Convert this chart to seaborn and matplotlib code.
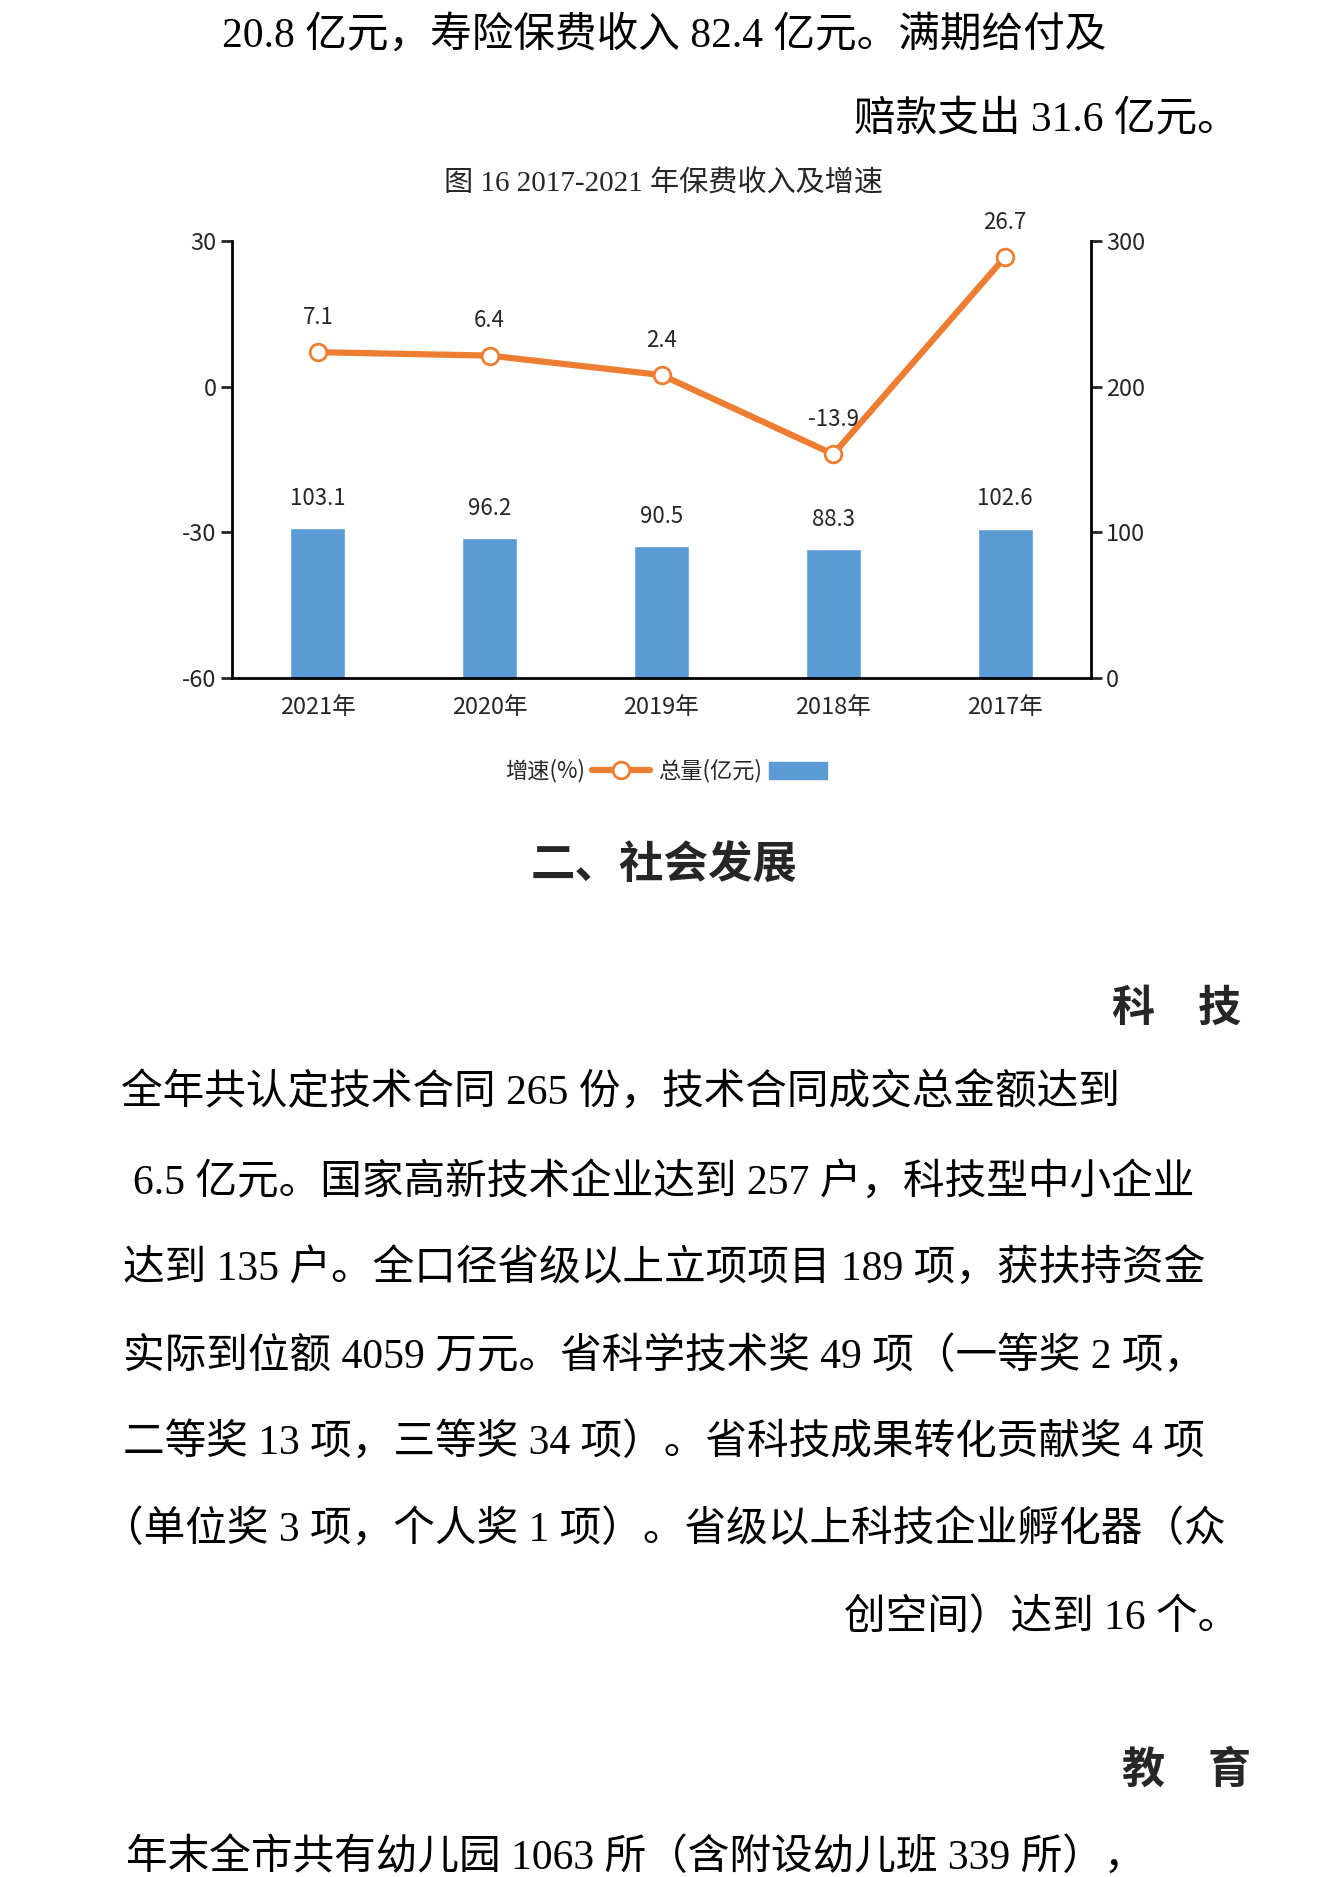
import matplotlib
matplotlib.use("Agg")
import matplotlib.pyplot as plt
import seaborn as sns
from matplotlib.lines import Line2D
from matplotlib.patches import Patch

# data (年份按原顺序, 图按镜像顺序显示)
years = ["2017年", "2018年", "2019年", "2020年", "2021年"]
totals = [102.6, 88.3, 90.5, 96.2, 103.1]      # 总量(亿元)
growth = [26.7, -13.9, 2.4, 6.4, 7.1]          # 增速(%)
order = years[::-1]

chart_title = "图 16 2017-2021 年保费收入及增速"
left_ticks = [30, 0, -30, -60]
right_ticks = [300, 200, 100, 0]

top_lines = ["20.8 亿元，寿险保费收入 82.4 亿元。满期给付及",
             "赔款支出 31.6 亿元。"]
heading = "二、社会发展"
sub1 = "科　技"
keji_lines = ["全年共认定技术合同 265 份，技术合同成交总金额达到",
              "6.5 亿元。国家高新技术企业达到 257 户，科技型中小企业",
              "达到 135 户。全口径省级以上立项项目 189 项，获扶持资金",
              "实际到位额 4059 万元。省科学技术奖 49 项（一等奖 2 项，",
              "二等奖 13 项，三等奖 34 项）。省科技成果转化贡献奖 4 项",
              "（单位奖 3 项，个人奖 1 项）。省级以上科技企业孵化器（众",
              "创空间）达到 16 个。"]
sub2 = "教　育"
edu_lines = ["年末全市共有幼儿园 1063 所（含附设幼儿班 339 所），"]

blue = "#5B9BD5"
orange = "#ED7D31"

sns.set_style("white")
plt.rcParams['font.family'] = ['Noto Sans CJK SC', 'DejaVu Sans']
plt.rcParams['axes.unicode_minus'] = False
serif = ['Liberation Serif', 'Noto Sans CJK SC']

fig = plt.figure(figsize=(13.23, 18.77), dpi=100)

# page layer in pixel coordinates
page = fig.add_axes([0, 0, 1, 1])
page.set_xlim(0, 1323)
page.set_ylim(1877, 0)
page.axis('off')

body = dict(fontsize=30, family=serif, va='center', color='black')
page.text(664, 36, top_lines[0], ha='center', **body)
page.text(1239, 121, top_lines[1], ha='right', **body)
page.text(664, 866, heading, ha='center', va='center', fontsize=32,
          fontweight='bold')
page.text(1177, 1008, sub1, ha='center', va='center', fontsize=31,
          fontweight='bold')
keji_y = [1094, 1183, 1270, 1357, 1443, 1530, 1618]
for i, (line, y) in enumerate(zip(keji_lines, keji_y)):
    if i == 0:
        page.text(620, y, line, ha='center', **body)
    elif i == len(keji_lines) - 1:
        page.text(1239, y, line, ha='right', **body)
    else:
        page.text(664, y, line, ha='center', **body)
page.text(1187, 1770, sub2, ha='center', va='center', fontsize=31,
          fontweight='bold')
page.text(636, 1858, edu_lines[0], ha='center', **body)

page.text(664, 184, chart_title, ha='center', va='center', fontsize=21,
          family=serif)

# chart
ax = fig.add_axes([232 / 1323, 1 - 678 / 1877, 859 / 1323, 437 / 1877])
ax2 = ax.twinx()

sns.barplot(x=years, y=totals, order=order, ax=ax, color=blue,
            saturation=1, width=0.32)
ax.set_ylim(0, 300)
ax.set_yticks(right_ticks)
ax.bar_label(ax.containers[0], fmt='%.1f', padding=13, fontsize=16)

sns.pointplot(x=years, y=growth, order=order, ax=ax2, color=orange,
              markers='o', linewidth=4.5, markersize=12,
              markerfacecolor='white', markeredgecolor=orange,
              markeredgewidth=2, errorbar=None)
ax2.set_ylim(-60, 30)
ax2.set_yticks(left_ticks)
gmap = dict(zip(years, growth))
for i, yr in enumerate(order):
    ax2.annotate(f"{gmap[yr]}", (i, gmap[yr]), xytext=(0, 25),
                 textcoords='offset points', ha='center', va='center',
                 fontsize=16, annotation_clip=False)

ax.set_xlim(-0.5, len(order) - 0.5)
ax.set_xlabel('')
ax.set_ylabel('')
ax2.set_xlabel('')
ax2.set_ylabel('')

# right axis = 总量, left axis = 增速 (mirrored layout)
ax.yaxis.tick_right()
ax2.yaxis.tick_left()
ax.tick_params(axis='y', right=True, left=False, labelright=True,
               labelleft=False, length=8, width=2, labelsize=17, pad=3)
ax2.tick_params(axis='y', left=True, right=False, labelleft=True,
                labelright=False, length=8, width=2, labelsize=17, pad=3)
ax.tick_params(axis='x', length=0, pad=13, labelsize=17)

for s in ['top', 'left']:
    ax.spines[s].set_visible(False)
for s in ['top', 'right', 'bottom']:
    ax2.spines[s].set_visible(False)
for s in ['right', 'bottom']:
    ax.spines[s].set_linewidth(2)
    ax.spines[s].set_color('black')
ax2.spines['left'].set_linewidth(2)
ax2.spines['left'].set_color('black')

handles = [Line2D([], [], color=orange, lw=4.5, marker='o', ms=12,
                  mfc='white', mec=orange, mew=2, label='增速(%)'),
           Patch(color=blue, label='总量(亿元)')]
fig.legend(handles=handles, loc='center',
           bbox_to_anchor=(666 / 1323, 1 - 771 / 1877), ncol=2,
           frameon=False, markerfirst=False, fontsize=16,
           handlelength=2.6, handleheight=0.8, handletextpad=0.3,
           columnspacing=0.4)

fig.savefig("out.png", dpi=100)
